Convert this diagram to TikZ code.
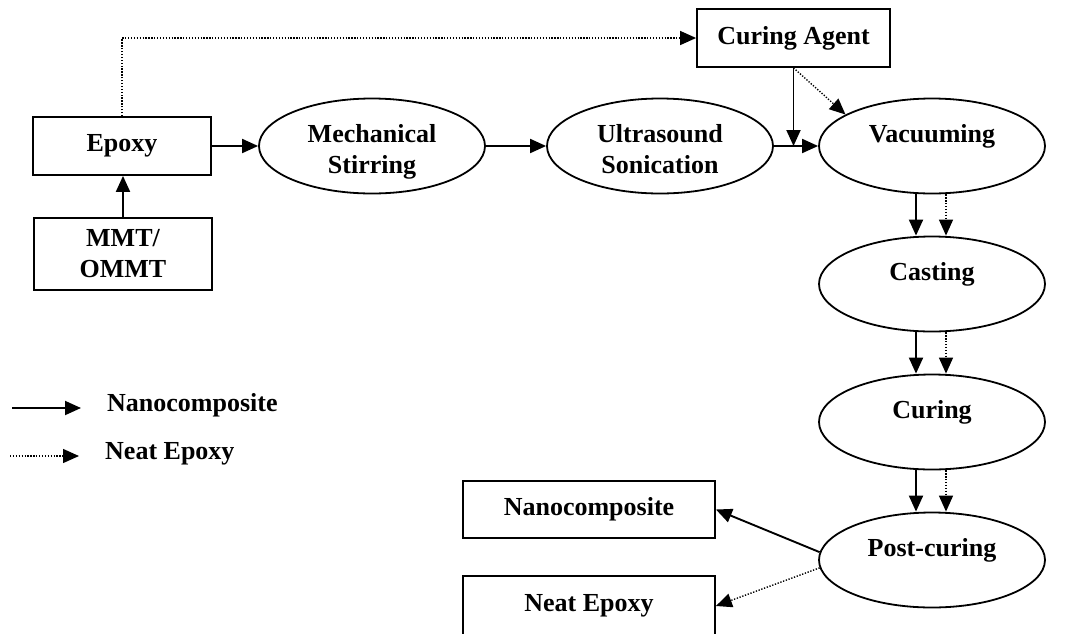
\documentclass[tikz,border=0pt]{standalone}
\usepackage{fontspec}
\setmainfont{Liberation Serif}
\usetikzlibrary{arrows.meta,shapes.geometric}

\tikzset{
  every node/.style={font=\fontsize{26}{31}\selectfont\bfseries},
  box/.style={draw, line width=1.8pt, minimum height=58pt, inner sep=2pt, align=center},
  stage/.style={draw, ellipse, line width=1.8pt, minimum width=226pt, minimum height=95pt, inner sep=0pt, align=center},
  stagetwo/.style={stage, text height=61pt, text depth=6pt},
  stagetop/.style={stage, text height=18pt, text depth=26pt},
  key/.style={anchor=west, inner sep=0pt},
  nanoflow/.style={line width=1.9pt, -{Triangle[length=16pt,width=14pt]}},
  neatflow/.style={nanoflow, line width=1.4pt, dash pattern=on 1.3pt off 1.6pt},
}

\begin{document}
\begin{tikzpicture}[x=1pt,y=-1pt]
  \useasboundingbox (0,0) rectangle (1066,633);

  \node[box, minimum width=178pt] (epoxy) at (122,146) {Epoxy};
  \node[box, minimum width=178pt, minimum height=72pt] (mmt) at (123,254) {MMT/\\OMMT};
  \node[box, minimum width=193pt] (agent) at (793.5,38) {Curing Agent};

  \node[stagetwo] (stir)  at (372,146) {Mechanical\\Stirring};
  \node[stagetwo] (sonic) at (660,146) {Ultrasound\\Sonication};
  \node[stagetop] (vac)  at (932,146) {Vacuuming};
  \node[stagetop] (cast) at (932,284) {Casting};
  \node[stagetop] (cure) at (932,422) {Curing};
  \node[stagetop] (post) at (932,560) {Post-curing};

  \node[box, minimum width=252pt, minimum height=57pt] (nano) at (589,509.5) {Nanocomposite};
  \node[box, minimum width=252pt, minimum height=60pt] (pure) at (589,606) {Neat Epoxy};

  \coordinate (join) at (agent.south |- vac.west);

  \draw[nanoflow] (mmt.north) -- (mmt.north |- epoxy.south);
  \draw[nanoflow] (epoxy) -- (stir);
  \draw[nanoflow] (stir) -- (sonic);
  \draw[nanoflow] (sonic) -- (vac);
  \draw[nanoflow] (agent.south) -- (join);
  \draw[neatflow] (agent.south) -- (vac.160);
  \draw[neatflow] (epoxy.north) |- (agent.west);

  \foreach \a/\b in {vac/cast, cast/cure, cure/post} {
    \draw[nanoflow] ([xshift=-16pt]\a.south) -- ([xshift=-16pt]\b.north);
    \draw[neatflow] ([xshift=14pt]\a.south) -- ([xshift=14pt]\b.north);
  }

  \draw[nanoflow] (post.176) -- (nano.east);
  \draw[neatflow] (post.184) -- (pure.east);

  % key
  \coordinate (keyA) at (12,408);
  \coordinate (keyB) at (81,408);
  \coordinate (keyC) at (10,456);
  \coordinate (keyD) at (79,456);
  \node[key] (keynano) at (107,405) {Nanocomposite};
  \node[key] (keyneat) at (105,454) {Neat Epoxy};
  \draw[nanoflow] (keyA) -- (keyB);
  \draw[neatflow] (keyC) -- (keyD);
\end{tikzpicture}
\end{document}
